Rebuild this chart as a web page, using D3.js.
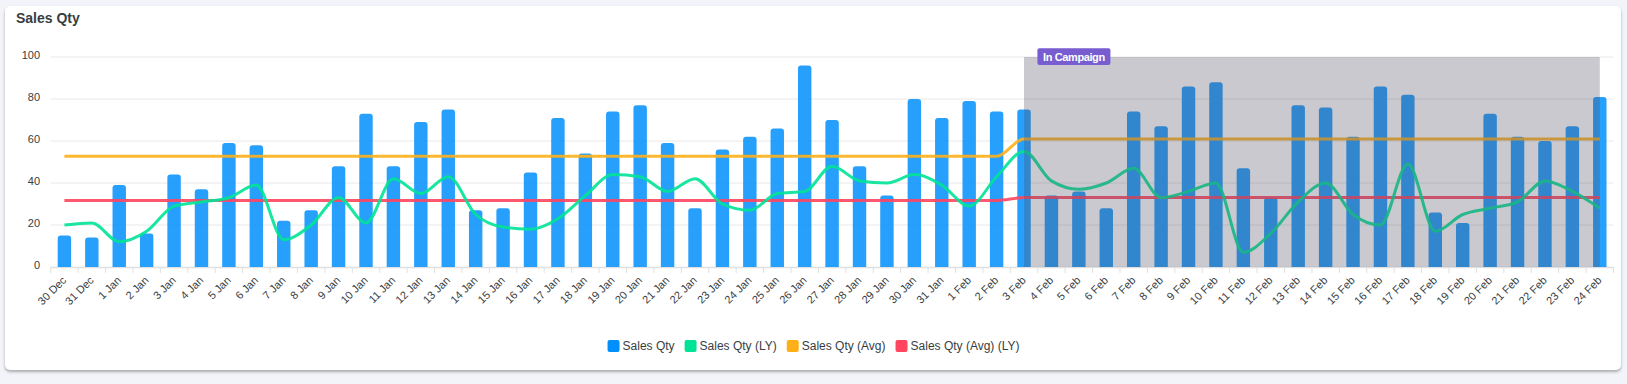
<!DOCTYPE html>
<html>
<head>
<meta charset="utf-8">
<script src="https://cdn.jsdelivr.net/npm/d3@7"></script>
<style>
    body {
        margin: 0;
        width: 1627px;
        height: 384px;
        overflow: hidden;
        background: #f3f4f9;
        font-family: "Liberation Sans", Arial, Helvetica, sans-serif;
    }
    #card {
        position: absolute;
        left: 5px;
        top: 6px;
        width: 1616px;
        height: 364px;
        background: #fff;
        border-radius: 5px;
        box-shadow: 0 2px 3px rgba(0, 0, 0, 0.3);
    }
    #chart svg {
        position: absolute;
        left: 0;
        top: 0;
    }
</style>
</head>
<body>
<div id="card"></div>
<div id="chart"></div>
<script>
"use strict";
// categories
const categories = [
    "30 Dec", "31 Dec",
    "1 Jan", "2 Jan", "3 Jan", "4 Jan", "5 Jan", "6 Jan", "7 Jan", "8 Jan", "9 Jan", "10 Jan",
    "11 Jan", "12 Jan", "13 Jan", "14 Jan", "15 Jan", "16 Jan", "17 Jan", "18 Jan", "19 Jan", "20 Jan",
    "21 Jan", "22 Jan", "23 Jan", "24 Jan", "25 Jan", "26 Jan", "27 Jan", "28 Jan", "29 Jan", "30 Jan", "31 Jan",
    "1 Feb", "2 Feb", "3 Feb", "4 Feb", "5 Feb", "6 Feb", "7 Feb", "8 Feb", "9 Feb", "10 Feb",
    "11 Feb", "12 Feb", "13 Feb", "14 Feb", "15 Feb", "16 Feb", "17 Feb", "18 Feb", "19 Feb", "20 Feb",
    "21 Feb", "22 Feb", "23 Feb", "24 Feb"
];

// series values
const salesQty = [
    15, 14,
    39, 16, 44, 37, 59, 58, 22, 27, 48, 73,
    48, 69, 75, 27, 28, 45, 71, 54, 74, 77,
    59, 28, 56, 62, 66, 96, 70, 48, 34, 80, 71,
    79, 74, 75, 34, 36, 28, 74, 67, 86, 88,
    47, 33, 77, 76, 62, 86, 82, 26, 21, 73,
    62, 60, 67, 81
];
const salesQtyLY = [
    20, 21,
    12, 17, 29, 31, 33, 39, 13, 20, 33, 21,
    42, 35, 43, 25, 19, 18, 23, 34, 44, 43,
    36, 42, 30, 27, 35, 36, 48, 41, 40, 44, 39,
    29, 43, 55, 41, 37, 40, 47, 33, 36, 40,
    7, 16, 31, 40, 25, 20, 49, 17, 25, 28,
    31, 41, 36, 28
];
const salesQtyAvg = [
    52.7, 52.7,
    52.7, 52.7, 52.7, 52.7, 52.7, 52.7, 52.7, 52.7, 52.7, 52.7,
    52.7, 52.7, 52.7, 52.7, 52.7, 52.7, 52.7, 52.7, 52.7, 52.7,
    52.7, 52.7, 52.7, 52.7, 52.7, 52.7, 52.7, 52.7, 52.7, 52.7, 52.7,
    52.7, 52.7, 61, 61, 61, 61, 61, 61, 61, 61,
    61, 61, 61, 61, 61, 61, 61, 61, 61, 61,
    61, 61, 61, 61
];
const salesQtyAvgLY = [
    31.7, 31.7,
    31.7, 31.7, 31.7, 31.7, 31.7, 31.7, 31.7, 31.7, 31.7, 31.7,
    31.7, 31.7, 31.7, 31.7, 31.7, 31.7, 31.7, 31.7, 31.7, 31.7,
    31.7, 31.7, 31.7, 31.7, 31.7, 31.7, 31.7, 31.7, 31.7, 31.7, 31.7,
    31.7, 31.7, 33.1, 33.1, 33.1, 33.1, 33.1, 33.1, 33.1, 33.1,
    33.1, 33.1, 33.1, 33.1, 33.1, 33.1, 33.1, 33.1, 33.1, 33.1,
    33.1, 33.1, 33.1, 33.1
];

// tick labels
const yTicks = [0, 20, 40, 60, 80, 100];
const campaignStart = "3 Feb",
    campaignEnd = "24 Feb",
    campaignLabel = "In Campaign";

const legendNames = ["Sales Qty", "Sales Qty (LY)", "Sales Qty (Avg)", "Sales Qty (Avg) (LY)"];
const colors = ["#008FFB", "#00E396", "#FEB019", "#FF4560"];

const width = 1627,
    height = 384;
const plot = { left: 50.7, right: 1613.5, top: 57, bottom: 267 };
const textColor = "#373d3f";

var svg = d3
    .select("#chart")
    .append("svg")
    .attr("width", width)
    .attr("height", height)
    .style("font-family", '"Liberation Sans", Arial, Helvetica, sans-serif');

var xScale = d3.scaleBand().domain(categories).range([plot.left, plot.right]).padding(0);
var yScale = d3.scaleLinear().domain([0, 100]).range([plot.bottom, plot.top]);
const bw = xScale.bandwidth();
const barWidth = bw * 0.49;

function xCenter(d) {
    return xScale(d) + bw / 2;
}

// title
svg.append("text")
    .attr("x", 16)
    .attr("y", 22.7)
    .attr("font-size", "14px")
    .attr("font-weight", "bold")
    .attr("fill", textColor)
    .text("Sales Qty");

// grid lines
svg.append("g")
    .selectAll("line")
    .data(yTicks.filter(t => t > 0))
    .enter()
    .append("line")
    .attr("x1", plot.left)
    .attr("x2", plot.right)
    .attr("y1", d => yScale(d))
    .attr("y2", d => yScale(d))
    .attr("stroke", "#e8e8e8")
    .attr("stroke-width", 1);

// y axis labels
var yAxis = svg.append("g")
    .attr("transform", `translate(${plot.left},0)`)
    .call(d3.axisLeft(yScale).tickValues(yTicks).tickSize(0).tickPadding(10.7));
yAxis.select(".domain").remove();
yAxis.selectAll("text")
    .attr("dy", "0.1em")
    .attr("font-size", "11px")
    .attr("fill", textColor)
    .style("font-family", '"Liberation Sans", Arial, Helvetica, sans-serif');

// x axis line and ticks
svg.append("line")
    .attr("x1", plot.left)
    .attr("x2", plot.right)
    .attr("y1", plot.bottom + 0.5)
    .attr("y2", plot.bottom + 0.5)
    .attr("stroke", "#e0e0e0")
    .attr("stroke-width", 1.5);

const tickXs = categories.map(c => xScale(c)).concat([plot.right]);
svg.append("g")
    .selectAll("line")
    .data(tickXs)
    .enter()
    .append("line")
    .attr("x1", d => d)
    .attr("x2", d => d)
    .attr("y1", plot.bottom)
    .attr("y2", plot.bottom + 6)
    .attr("stroke", "#e0e0e0")
    .attr("stroke-width", 1);

// x labels
svg.append("g")
    .selectAll("text")
    .data(categories)
    .enter()
    .append("text")
    .attr("transform", d => `translate(${xCenter(d) + 2.6},281) rotate(-45)`)
    .attr("text-anchor", "end")
    .attr("font-size", "11px")
    .attr("fill", textColor)
    .text(d => d);

// bars
function barPath(x0, y0, w, h, r) {
    r = Math.min(r, h);
    return `M${x0},${y0 + h}V${y0 + r}Q${x0},${y0} ${x0 + r},${y0}H${x0 + w - r}Q${x0 + w},${y0} ${x0 + w},${y0 + r}V${y0 + h}Z`;
}
svg.append("g")
    .selectAll("path")
    .data(categories)
    .enter()
    .append("path")
    .attr("d", (d, i) => {
        const top = yScale(salesQty[i]);
        return barPath(xCenter(d) - barWidth / 2, top, barWidth, plot.bottom - top, 3);
    })
    .attr("fill", colors[0])
    .attr("fill-opacity", 0.85);

// lines
const lineGen = d3.line()
    .x(d => xCenter(d.cat))
    .y(d => yScale(d.value))
    .curve(d3.curveMonotoneX);

[[salesQtyAvgLY, colors[3]], [salesQtyAvg, colors[2]], [salesQtyLY, colors[1]]].forEach(function (s) {
    const pts = categories.map((c, i) => ({ cat: c, value: s[0][i] }));
    svg.append("path")
        .attr("d", lineGen(pts))
        .attr("fill", "none")
        .attr("stroke", s[1])
        .attr("stroke-width", 3)
        .attr("stroke-opacity", 0.9);
});

// campaign region
const regionX0 = xCenter(campaignStart),
    regionX1 = xCenter(campaignEnd);
svg.append("rect")
    .attr("x", regionX0)
    .attr("y", yScale(100))
    .attr("width", regionX1 - regionX0)
    .attr("height", plot.bottom - yScale(100))
    .attr("fill", "rgb(79,75,95)")
    .attr("fill-opacity", 0.3);

svg.append("rect")
    .attr("x", regionX0 + 13.4)
    .attr("y", 48.3)
    .attr("width", 73)
    .attr("height", 16.7)
    .attr("rx", 2)
    .attr("fill", "#775DD0");
svg.append("text")
    .attr("x", regionX0 + 13.4 + 36.5)
    .attr("y", 60.5)
    .attr("text-anchor", "middle")
    .attr("font-size", "11px")
    .attr("font-weight", "bold")
    .attr("letter-spacing", "-0.4px")
    .attr("fill", "#fff")
    .text(campaignLabel);

// legend
var legend = svg.append("g");
var items = legendNames.map(function (name, i) {
    const g = legend.append("g");
    g.append("rect")
        .attr("width", 12)
        .attr("height", 12)
        .attr("rx", 2)
        .attr("y", 340)
        .attr("fill", colors[i]);
    const t = g.append("text")
        .attr("x", 15)
        .attr("y", 350)
        .attr("font-size", "12px")
        .attr("fill", textColor)
        .text(name);
    return { g: g, w: 15 + t.node().getComputedTextLength() };
});
const gap = 10;
const totalW = d3.sum(items, d => d.w) + gap * (items.length - 1);
let lx = width / 2 - totalW / 2;
items.forEach(function (it) {
    it.g.attr("transform", `translate(${lx},0)`);
    lx += it.w + gap;
});
</script>
</body>
</html>
